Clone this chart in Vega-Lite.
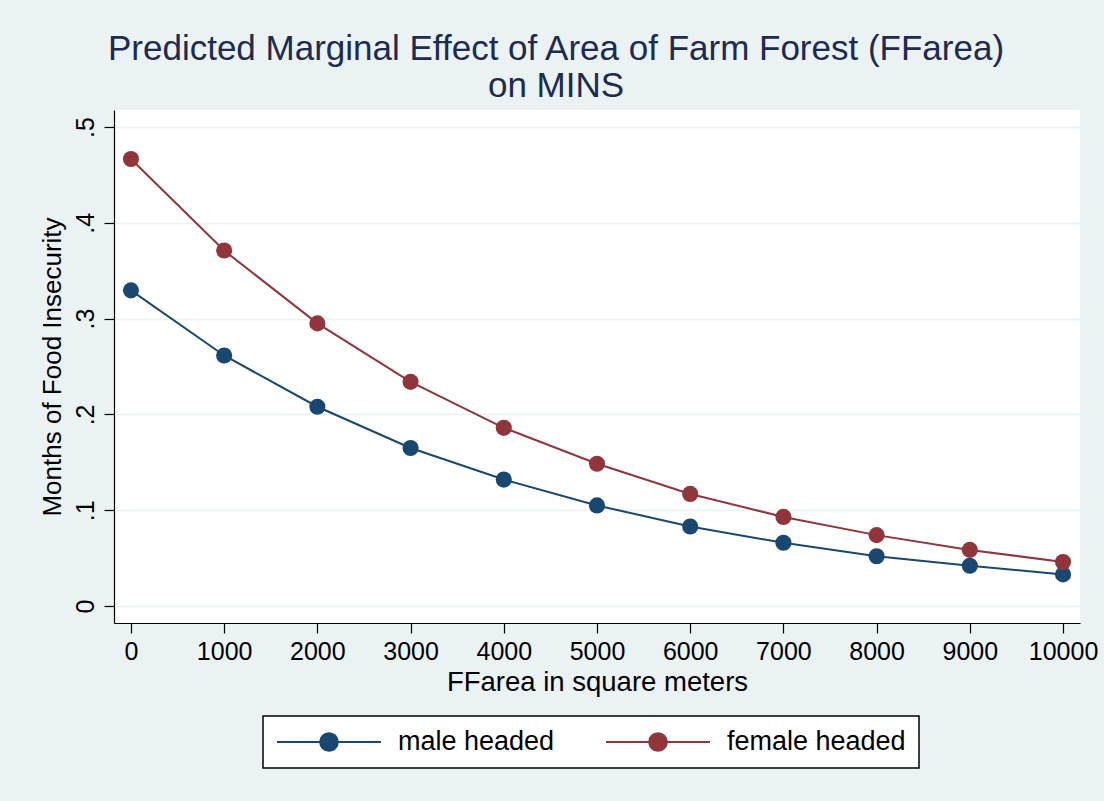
{
  "$schema": "https://vega.github.io/schema/vega-lite/v6.json",
  "autosize": "none",
  "width": 966,
  "height": 513,
  "padding": {"left": 114, "top": 110, "right": 24, "bottom": 178},
  "background": "#EAF2F3",
  "title": {
    "text": ["Predicted Marginal Effect of Area of Farm Forest (FFarea)", "on MINS"],
    "font": "Liberation Sans",
    "fontSize": 35,
    "fontWeight": "normal",
    "color": "#1E2A4E",
    "anchor": "middle",
    "dx": -41,
    "offset": 6,
    "lineHeight": 37
  },
  "config": {
    "view": {"fill": "white", "stroke": null},
    "font": "Liberation Sans",
    "legend": {"strokeWidth": 1.5},
    "axis": {
      "domainColor": "black",
      "domainWidth": 1.2,
      "tickColor": "black",
      "tickWidth": 1.2,
      "tickSize": 10,
      "labelFont": "Liberation Sans",
      "labelFontSize": 25,
      "labelColor": "black",
      "titleFont": "Liberation Sans",
      "titleFontSize": 27.5,
      "titleFontWeight": "normal",
      "titleColor": "black"
    }
  },
  "data": {
    "values": [
      {"area": 0, "group": "male headed", "mins": 0.3295},
      {"area": 1000, "group": "male headed", "mins": 0.2615},
      {"area": 2000, "group": "male headed", "mins": 0.208},
      {"area": 3000, "group": "male headed", "mins": 0.165},
      {"area": 4000, "group": "male headed", "mins": 0.132},
      {"area": 5000, "group": "male headed", "mins": 0.105},
      {"area": 6000, "group": "male headed", "mins": 0.083},
      {"area": 7000, "group": "male headed", "mins": 0.066},
      {"area": 8000, "group": "male headed", "mins": 0.052},
      {"area": 9000, "group": "male headed", "mins": 0.042},
      {"area": 10000, "group": "male headed", "mins": 0.033},
      {"area": 0, "group": "female headed", "mins": 0.4665},
      {"area": 1000, "group": "female headed", "mins": 0.371},
      {"area": 2000, "group": "female headed", "mins": 0.295},
      {"area": 3000, "group": "female headed", "mins": 0.234},
      {"area": 4000, "group": "female headed", "mins": 0.186},
      {"area": 5000, "group": "female headed", "mins": 0.1485},
      {"area": 6000, "group": "female headed", "mins": 0.117},
      {"area": 7000, "group": "female headed", "mins": 0.093},
      {"area": 8000, "group": "female headed", "mins": 0.074},
      {"area": 9000, "group": "female headed", "mins": 0.0586},
      {"area": 10000, "group": "female headed", "mins": 0.046}
    ]
  },
  "encoding": {
    "x": {
      "field": "area",
      "type": "quantitative",
      "scale": {"domain": [-182, 10182], "nice": false, "zero": false},
      "axis": {
        "title": "FFarea in square meters",
        "values": [0, 1000, 2000, 3000, 4000, 5000, 6000, 7000, 8000, 9000, 10000],
        "format": "d",
        "grid": false,
        "labelPadding": 6,
        "titlePadding": 4,
        "labelFlush": false,
        "labelOverlap": false
      }
    },
    "y": {
      "field": "mins",
      "type": "quantitative",
      "scale": {"domain": [-0.0177, 0.5177], "nice": false, "zero": false},
      "axis": {
        "title": "Months of Food Insecurity",
        "titleFontSize": 26,
        "values": [0, 0.1, 0.2, 0.3, 0.4, 0.5],
        "labelExpr": "datum.value == 0 ? '0' : replace(format(datum.value, '.1f'), '0.', '.')",
        "labelAngle": -90,
        "labelAlign": "center",
        "labelBaseline": "alphabetic",
        "labelPadding": 11,
        "labelFlush": false,
        "labelOverlap": false,
        "grid": true,
        "gridColor": "#EAF2F3",
        "gridWidth": 1.5,
        "titlePadding": 8
      }
    },
    "color": {
      "field": "group",
      "type": "nominal",
      "scale": {"domain": ["male headed", "female headed"], "range": ["#1A476F", "#90353B"]},
      "legend": {
        "title": null,
        "orient": "none",
        "legendX": 149,
        "legendY": 606,
        "direction": "horizontal",
        "columns": 2,
        "columnPadding": 50,
        "padding": 13,
        "clipHeight": 26,
        "fillColor": "white",
        "strokeColor": "black",
        "cornerRadius": 0,
        "labelFont": "Liberation Sans",
        "labelFontSize": 27,
        "labelColor": "black",
        "labelLimit": 0,
        "labelOffset": 16,
        "symbolType": "M-1,0L1,0M0.17,0A0.17,0.17 0 1 1 -0.17,0A0.17,0.17 0 1 1 0.17,0Z",
        "encode": {
          "symbols": {
            "update": {
              "size": {"value": 10816},
              "fill": {"scale": "color", "field": "value"},
              "stroke": {"scale": "color", "field": "value"},
              "strokeWidth": {"value": 2},
              "opacity": {"value": 1}
            }
          }
        }
      }
    }
  },
  "layer": [
    {"mark": {"type": "line", "strokeWidth": 2}},
    {"mark": {"type": "point", "filled": true, "size": 260, "opacity": 1, "shape": "circle"}}
  ]
}
